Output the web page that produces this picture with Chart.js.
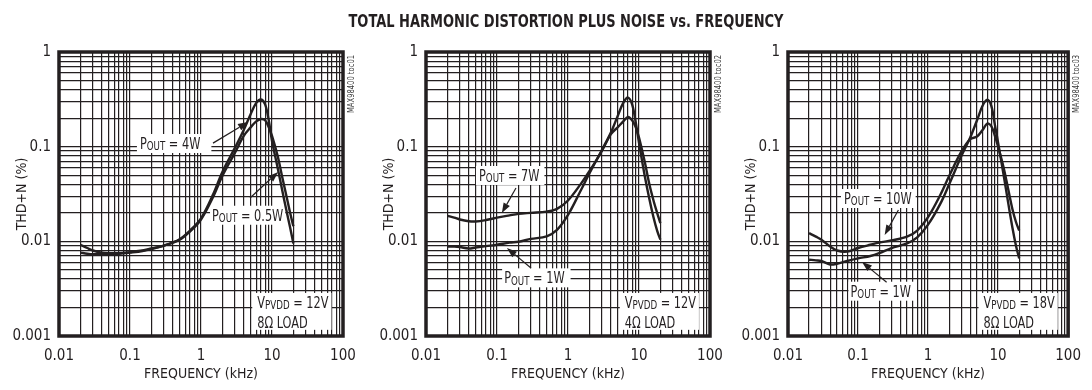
<!DOCTYPE html>
<html><head><meta charset="utf-8">
<script src="https://cdn.jsdelivr.net/npm/chart.js@4.4.1/dist/chart.umd.min.js"></script>
<style>
html,body{margin:0;padding:0;background:#fff;}
#wrap{position:relative;width:1092px;height:390px;overflow:hidden;background:#fff;}
canvas{position:absolute;left:0;top:0;}
</style></head><body>
<div id="wrap">
<canvas id="c1" width="1092" height="390"></canvas>
<canvas id="c2" width="1092" height="390"></canvas>
<canvas id="c3" width="1092" height="390"></canvas>
</div>
<script>
const FONT = "'DejaVu Sans Condensed','Liberation Sans',sans-serif";
const INK = '#231f20';

const TITLE = 'TOTAL HARMONIC DISTORTION PLUS NOISE vs. FREQUENCY';
const X_TITLE = 'FREQUENCY (kHz)';
const Y_TITLE = 'THD+N (%)';

// tick labels / decades
const xDecades = [0.01, 0.1, 1, 10, 100];
const xTickLabels = ['0.01', '0.1', '1', '10', '100'];
const yDecades = [0.001, 0.01, 0.1, 1];
const yTickLabels = ['0.001', '0.01', '0.1', '1'];
const minorSteps = [1, 2, 3, 4, 5, 6, 7, 8, 9];

// frequency (kHz)
const freq = [0.02, 0.025, 0.03, 0.04, 0.05, 0.07, 0.1, 0.15, 0.2, 0.3, 0.5, 0.7, 1, 1.5, 2, 3, 4, 5, 6, 7, 8, 9, 10, 12, 14, 16, 18, 20];

// Panel 1: VPVDD = 12V, 8 ohm
const p1_4W   = [0.0092, 0.0085, 0.0080, 0.0076, 0.0075, 0.0075, 0.0077, 0.0080, 0.0084, 0.0090, 0.0105, 0.0130, 0.0175, 0.032, 0.054, 0.097, 0.15, 0.22, 0.29, 0.315, 0.28, 0.19, 0.115, 0.060, 0.034, 0.021, 0.014, 0.0095];
const p1_05W  = [0.0076, 0.0074, 0.0073, 0.0073, 0.0073, 0.0074, 0.0076, 0.0079, 0.0083, 0.0090, 0.0104, 0.0127, 0.0170, 0.030, 0.049, 0.086, 0.13, 0.16, 0.185, 0.196, 0.19, 0.16, 0.13, 0.080, 0.047, 0.030, 0.020, 0.0144];

// Panel 2: VPVDD = 12V, 4 ohm
const p2_7W   = [0.0186, 0.0178, 0.0170, 0.0163, 0.0162, 0.0168, 0.0178, 0.0188, 0.0195, 0.0200, 0.0206, 0.0220, 0.0270, 0.040, 0.055, 0.090, 0.135, 0.160, 0.185, 0.206, 0.19, 0.16, 0.125, 0.070, 0.040, 0.027, 0.020, 0.0156];
const p2_1W   = [0.0088, 0.0088, 0.0087, 0.0084, 0.0086, 0.0089, 0.0092, 0.0097, 0.0099, 0.0106, 0.0113, 0.0132, 0.0190, 0.034, 0.052, 0.092, 0.140, 0.210, 0.290, 0.330, 0.28, 0.18, 0.110, 0.050, 0.028, 0.018, 0.013, 0.0104];

// Panel 3: VPVDD = 18V, 8 ohm
const p3_10W  = [0.0122, 0.0112, 0.0104, 0.0088, 0.0080, 0.0078, 0.0085, 0.0092, 0.0097, 0.0102, 0.0112, 0.0130, 0.0180, 0.031, 0.049, 0.089, 0.120, 0.128, 0.150, 0.175, 0.165, 0.13, 0.100, 0.060, 0.035, 0.022, 0.016, 0.013];
const p3_1W   = [0.0064, 0.0063, 0.0062, 0.0057, 0.0058, 0.0062, 0.0066, 0.0070, 0.0075, 0.0085, 0.0095, 0.0110, 0.0150, 0.025, 0.040, 0.080, 0.125, 0.190, 0.270, 0.314, 0.27, 0.17, 0.110, 0.050, 0.025, 0.014, 0.009, 0.0066];

function gridValues(decades) {
  const out = [];
  for (let i = 0; i < decades.length - 1; i++) for (const m of minorSteps) out.push(+(decades[i] * m).toPrecision(6));
  out.push(decades[decades.length - 1]);
  return out;
}
function labelFor(v, decades, labels) {
  for (let i = 0; i < decades.length; i++) if (Math.abs(v / decades[i] - 1) < 1e-6) return labels[i];
  return '';
}

const SZ_MAIN = 15, SZ_SUB = 11.5, SQUEEZE = 0.84;
function richWidth(ctx, parts) {
  let w = 0;
  for (const [t, k] of parts) { ctx.font = (k === 'S' ? SZ_SUB : SZ_MAIN) + 'px ' + FONT; w += ctx.measureText(t).width; }
  return w * SQUEEZE;
}
function drawRich(ctx, x, y, parts) {
  ctx.save();
  ctx.translate(x, y);
  ctx.scale(SQUEEZE, 1);
  let cx = 0;
  for (const [t, k] of parts) {
    ctx.font = (k === 'S' ? SZ_SUB : SZ_MAIN) + 'px ' + FONT;
    ctx.fillText(t, cx, k === 'S' ? 1.5 : 0);
    cx += ctx.measureText(t).width;
  }
  ctx.restore();
}
function arrow(ctx, x0, y0, x1, y1) {
  ctx.save();
  ctx.strokeStyle = INK; ctx.fillStyle = INK; ctx.lineWidth = 1.2;
  const a = Math.atan2(y1 - y0, x1 - x0), L = 10, W = 3.6;
  const bx = x1 - L * Math.cos(a), by = y1 - L * Math.sin(a);
  ctx.beginPath(); ctx.moveTo(x0, y0); ctx.lineTo(bx, by); ctx.stroke();
  ctx.beginPath();
  ctx.moveTo(x1, y1);
  ctx.lineTo(bx + W * Math.sin(a), by - W * Math.cos(a));
  ctx.lineTo(bx - W * Math.sin(a), by + W * Math.cos(a));
  ctx.closePath(); ctx.fill();
  ctx.restore();
}

function makeDecor(spec) {
  return {
    id: 'decor' + spec.tag,
    beforeDatasetsDraw(chart) {
      const ctx = chart.ctx, xs = chart.scales.x, ys = chart.scales.y;
      ctx.save();
      ctx.textBaseline = 'alphabetic';
      for (const n of spec.notes) {
        const x = xs.getPixelForValue(n.f);
        const base = n.v.map(v => ys.getPixelForValue(v));
        let w = 0;
        for (const ln of n.lines) w = Math.max(w, richWidth(ctx, ln));
        ctx.fillStyle = '#fff';
        const top = base[0] - 15, bot = base[base.length - 1] + n.padB;
        ctx.fillRect(x - n.padL, top, w + n.padL + n.padR, bot - top);
        ctx.fillStyle = INK;
        n.lines.forEach((ln, i) => drawRich(ctx, x, base[i], ln));
      }
      ctx.restore();
    },
    afterDraw(chart) {
      const ctx = chart.ctx, xs = chart.scales.x, ys = chart.scales.y, ca = chart.chartArea;
      for (const a of spec.arrows) {
        arrow(ctx, xs.getPixelForValue(a[0]), ys.getPixelForValue(a[1]), xs.getPixelForValue(a[2]), ys.getPixelForValue(a[3]));
      }
      ctx.save();
      ctx.strokeStyle = INK; ctx.lineWidth = 3.5;
      ctx.strokeRect(ca.left, ca.top, ca.right - ca.left, ca.bottom - ca.top);
      ctx.restore();
      ctx.save();
      ctx.translate(ca.right + 8.5, ca.top + 3);
      ctx.rotate(-Math.PI / 2);
      ctx.font = '9px ' + FONT;
      ctx.fillStyle = '#3a3a3a';
      ctx.textAlign = 'right'; ctx.textBaseline = 'middle';
      ctx.fillText(spec.side, 0, 0, 58);
      ctx.restore();
      if (spec.title) {
        ctx.save();
        ctx.font = 'bold 18px ' + FONT;
        ctx.fillStyle = INK;
        ctx.textAlign = 'center'; ctx.textBaseline = 'middle';
        ctx.fillText(spec.title, (ca.left + ca.right) / 2 - 2, 22.5, 435);
        ctx.restore();
      }
    }
  };
}

const PLOT_TOP = 52, PLOT_BOTTOM = 336, Y_AXIS_W = 50;

function makePanel(id, L, R, series, spec) {
  const ctx = document.getElementById(id).getContext('2d');
  return new Chart(ctx, {
    type: 'line',
    data: {
      datasets: series.map(s => ({
        label: s.label,
        data: freq.map((f, i) => ({ x: f, y: s.values[i] })),
        borderColor: INK, borderWidth: 2.4, pointRadius: 0, tension: 0.35, fill: false
      }))
    },
    options: {
      responsive: false, animation: false, devicePixelRatio: 1,
      layout: { padding: { left: L - Y_AXIS_W, right: 1092 - R, top: PLOT_TOP, bottom: 0 } },
      plugins: { legend: { display: false }, tooltip: { enabled: false }, title: { display: false } },
      scales: {
        x: {
          type: 'logarithmic', min: 0.01, max: 100, position: 'bottom',
          afterBuildTicks: s => { s.ticks = gridValues(xDecades).map(v => ({ value: v })); },
          afterFit: s => { s.height = 390 - PLOT_BOTTOM; },
          ticks: { autoSkip: false, maxRotation: 0, minRotation: 0, padding: 11, color: INK,
                   font: { family: FONT, size: 15 },
                   callback: v => labelFor(v, xDecades, xTickLabels) },
          grid: { color: INK, lineWidth: 1.2, drawTicks: false },
          border: { display: false },
          title: { display: true, text: X_TITLE, color: INK, font: { family: FONT, size: 14, lineHeight: 1.2 }, padding: { top: 0, bottom: 7.6 } }
        },
        y: {
          type: 'logarithmic', min: 0.001, max: 1, position: 'left',
          afterBuildTicks: s => { s.ticks = gridValues(yDecades).map(v => ({ value: v })); },
          afterFit: s => { s.width = Y_AXIS_W; },
          ticks: { autoSkip: false, padding: 8, color: INK, font: { family: FONT, size: 15 },
                   callback: v => labelFor(v, yDecades, yTickLabels) },
          grid: { color: INK, lineWidth: 1.2, drawTicks: false },
          border: { display: false },
          title: { display: true, text: Y_TITLE, color: INK, font: { family: FONT, size: 14, lineHeight: 1.2 }, padding: { top: 4.6, bottom: 0 } }
        }
      }
    },
    plugins: [makeDecor(spec)]
  });
}

const P = (n) => [['P', 'B'], ['OUT', 'S'], [' = ' + n, 'B']];
const V = (n) => [['V', 'B'], ['PVDD', 'S'], [' = ' + n, 'B']];

makePanel('c1', 59, 343, [
  { label: 'POUT = 4W', values: p1_4W },
  { label: 'POUT = 0.5W', values: p1_05W }
], {
  tag: 1, side: 'MAX98400 toc01',
  notes: [
    { f: 0.138, v: [0.0945], lines: [P('4W')], padL: 3, padR: 11, padB: 4 },
    { f: 1.43, v: [0.0165], lines: [P('0.5W')], padL: 2, padR: 2, padB: 4 },
    { f: 6.2, v: [0.00198, 0.00122], lines: [V('12V'), [['8\u03A9 LOAD', 'B']]], padL: 5, padR: 3, padB: 2 }
  ],
  arrows: [[1.476, 0.109, 4.59, 0.182], [4.9, 0.0287, 12.2, 0.054]]
});

makePanel('c2', 426, 710, [
  { label: 'POUT = 7W', values: p2_7W },
  { label: 'POUT = 1W', values: p2_1W }
], {
  tag: 2, side: 'MAX98400 toc02', title: TITLE,
  notes: [
    { f: 0.0557, v: [0.0434], lines: [P('7W')], padL: 3, padR: 5, padB: 4 },
    { f: 0.126, v: [0.0036], lines: [P('1W')], padL: 2, padR: 6, padB: 4 },
    { f: 6.3, v: [0.00198, 0.00122], lines: [V('12V'), [['4\u03A9 LOAD', 'B']]], padL: 5, padR: 3, padB: 2 }
  ],
  arrows: [[0.185, 0.0366, 0.117, 0.0199], [0.301, 0.00523, 0.138, 0.0085]]
});

makePanel('c3', 788, 1072, [
  { label: 'POUT = 10W', values: p3_10W },
  { label: 'POUT = 1W', values: p3_1W }
], {
  tag: 3, side: 'MAX98400 toc03',
  notes: [
    { f: 0.063, v: [0.0248], lines: [P('10W')], padL: 3, padR: 4, padB: 4 },
    { f: 0.078, v: [0.0026], lines: [P('1W')], padL: 2, padR: 6, padB: 4 },
    { f: 6.2, v: [0.00198, 0.00122], lines: [V('18V'), [['8\u03A9 LOAD', 'B']]], padL: 5, padR: 3, padB: 2 }
  ],
  arrows: [[0.377, 0.0214, 0.24, 0.0117], [0.256, 0.0037, 0.114, 0.00605]]
});
</script>
</body></html>
